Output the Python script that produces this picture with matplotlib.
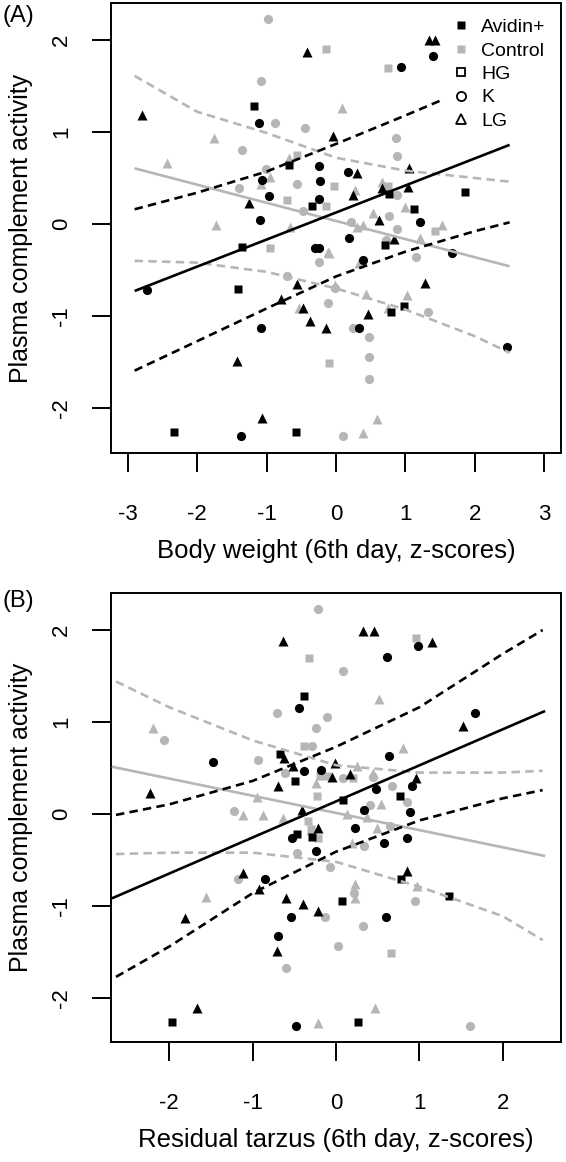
import numpy as np
import matplotlib
matplotlib.use("Agg")
import matplotlib.pyplot as plt
from matplotlib.lines import Line2D

plt.rcParams['font.family'] = ['Liberation Sans', 'DejaVu Sans']
plt.rcParams['axes.unicode_minus'] = False

BLACK = '#000000'
GREY = '#b6b6b6'

# ---------------- Panel A: body weight (x) vs plasma complement activity (y)
A_avidin_HG = [(-1.175, 1.283), (-0.681, 0.645), (-0.35, 0.199), (-1.353, -0.253), (-1.405, -0.71),
               (-2.331, -2.261), (-0.571, -2.261), (0.763, 0.326), (1.856, 0.351), (1.122, 0.16),
               (0.705, -0.228), (0.791, -0.96), (0.978, -0.891)]
A_avidin_K = [(-1.108, 1.101), (-0.25, 0.63), (-1.07, 0.478), (-0.23, 0.464), (-0.969, 0.304),
              (-0.25, 0.268), (-1.098, 0.047), (-0.30, -0.264), (-0.245, -0.264), (-2.72, -0.717),
              (-1.084, -1.134), (-1.367, -2.304), (1.391, 1.826), (0.93, 1.71), (0.168, 0.569),
              (1.209, 0.025), (0.192, -0.149), (1.664, -0.319), (0.393, -0.391), (0.331, -1.134),
              (2.456, -1.333)]
A_avidin_LG = [(-0.42, 1.873), (-2.796, 1.185), (-1.257, 0.225), (-0.557, -0.652), (-0.791, -0.819),
               (-0.47, -0.909), (-0.374, -1.054), (-0.144, -1.134), (-1.429, -1.493), (-1.065, -2.105),
               (1.343, 2.0), (1.424, 2.0), (-0.038, 0.957), (0.307, 0.551), (1.055, 0.605),
               (0.662, 0.395), (0.24, 0.315), (1.031, 0.406), (0.614, 0.043), (0.835, -0.167),
               (1.281, -0.638), (0.465, -0.978)]
A_control_HG = [(-0.144, 1.899), (0.753, 1.699), (-0.557, 0.746), (-0.709, 0.261), (-0.144, 0.199),
                (-0.945, -0.261), (-0.096, -1.514), (-0.029, 0.416), (0.753, 0.416), (1.424, -0.072)]
A_control_K = [(-0.974, 2.225), (-1.075, 1.558), (-0.873, 1.101), (-0.45, 1.047), (-1.353, 0.801),
               (-1.012, 0.594), (-1.396, 0.395), (-0.557, 0.435), (-0.47, 0.141), (-0.25, -0.417),
               (-0.705, -0.565), (-0.11, -0.862), (-0.014, -0.699), (0.863, 0.931), (0.882, 0.739),
               (0.882, 0.315), (0.767, 0.087), (0.211, 0.025), (0.873, -0.058), (1.151, -0.355),
               (1.329, -0.953), (0.249, -1.127), (0.47, -1.225), (0.47, -1.442), (0.47, -1.681),
               (0.105, -2.304), (0.715, -0.174)]
A_control_LG = [(-1.755, 0.938), (-2.436, 0.666), (-0.671, 0.717), (-0.945, 0.514), (-1.079, 0.431),
                (-1.727, -0.011), (-0.657, -0.029), (-0.11, -0.308), (-0.528, -0.909), (0.082, 1.257),
                (0.657, 0.46), (0.273, 0.37), (0.993, 0.188), (0.537, 0.116), (0.297, -0.036),
                (0.384, -0.014), (1.52, -0.014), (1.209, -0.156), (0.336, -0.428), (-0.096, -0.319),
                (-0.014, -0.663), (0.432, -0.761), (1.017, -0.772), (0.753, -0.917), (0.585, -2.12),
                (0.393, -2.275)]

A_fit_x = [-2.9, 2.5]
A_fit_avidin = [-0.728, 0.86]
A_fit_control = [0.605, -0.46]
A_band_x = [-2.9, -2, -1, 0, 1, 2, 2.5]
A_avidin_upper = [0.16, 0.34, 0.57, 0.87, 1.18, 1.50, 1.68]
A_avidin_lower = [-1.594, -1.274, -0.918, -0.57, -0.30, -0.078, 0.018]
A_control_upper = [1.61, 1.22, 0.99, 0.72, 0.58, 0.50, 0.46]
A_control_lower = [-0.40, -0.42, -0.52, -0.70, -0.93, -1.22, -1.40]

# ---------------- Panel B: residual tarsus (x) vs plasma complement activity (y)
B_avidin_HG = [(-0.38, 1.283), (-0.672, 0.652), (-0.496, 0.359), (-0.465, -0.217), (-0.284, -0.254),
               (0.088, 0.152), (0.768, 0.199), (0.776, -0.707), (0.068, -0.946), (1.357, -0.888),
               (-1.973, -2.257), (0.268, -2.257)]
B_avidin_K = [(-0.44, 1.155), (-1.473, 0.569), (-0.388, 0.467), (-0.184, 0.478), (-0.525, -0.257),
              (-0.24, -0.399), (0.988, 1.83), (0.608, 1.71), (1.669, 1.101), (0.64, 0.63),
              (0.48, 0.268), (0.908, 0.304), (0.888, 0.025), (0.34, 0.043), (0.228, -0.156),
              (0.848, -0.257), (0.576, -0.312), (-0.852, -0.707), (-0.54, -1.123), (0.596, -1.123),
              (-0.692, -1.326), (-0.484, -2.301)]
B_avidin_LG = [(-0.64, 1.88), (-0.62, 0.605), (-0.52, 0.522), (-0.693, 0.304), (-2.233, 0.232),
               (-0.408, 0.043), (-0.212, -0.156), (0.32, 1.993), (0.46, 1.993), (1.149, 1.866),
               (1.521, 0.957), (-0.012, 0.551), (-0.052, 0.406), (0.168, 0.431), (0.96, 0.395),
               (0.848, -0.62), (-1.12, -0.645), (-0.924, -0.819), (-0.6, -0.909), (-0.4, -0.982),
               (-0.212, -1.054), (-1.813, -1.134), (-0.712, -1.489), (-1.672, -2.112)]
B_control_HG = [(-0.328, 1.699), (-0.38, 0.743), (-0.192, 0.413), (-0.104, 0.413), (-0.224, 0.199),
                (-0.333, -0.072), (-0.3, -0.167), (-0.212, -0.264), (0.208, 0.388), (0.96, 1.91),
                (0.656, -1.507)]
B_control_K = [(-0.212, 2.225), (-0.705, 1.101), (-0.112, 1.051), (-0.24, 0.931), (-2.061, 0.801),
               (-0.284, 0.743), (-0.933, 0.587), (-0.612, 0.442), (-1.221, 0.033), (-0.465, -0.42),
               (0.08, 1.558), (0.088, 0.395), (0.44, 0.40), (0.668, 0.304), (0.848, 0.134),
               (0.408, 0.098), (0.34, -0.348), (-0.072, -0.572), (0.22, -0.862), (0.948, -0.942),
               (-0.132, -1.123), (0.32, -1.217), (0.648, -0.13), (-1.18, -0.71), (-0.604, -1.677),
               (0.028, -1.435), (1.609, -2.301)]
B_control_LG = [(-2.193, 0.931), (-0.24, 0.333), (-0.945, 0.188), (-1.113, -0.011), (-0.88, -0.011),
                (-0.633, -0.04), (0.52, 1.25), (0.80, 0.714), (0.248, 0.522), (0.44, 0.449),
                (0.544, 0.109), (0.128, 0.0), (0.368, -0.036), (-0.304, -0.174), (0.488, -0.156),
                (0.196, -0.312), (0.968, -0.779), (0.228, -0.761), (0.228, -0.909), (-1.561, -0.906),
                (-0.22, -2.268), (0.468, -2.112)]

B_fit_x = [-2.69, 2.51]
B_fit_avidin = [-0.917, 1.12]
B_fit_control = [0.514, -0.457]
B_band_x = [-2.64, -2, -1, 0, 1, 2, 2.48]
B_avidin_upper = [-0.01, 0.105, 0.36, 0.73, 1.16, 1.74, 2.0]
B_avidin_lower = [-1.77, -1.44, -0.86, -0.41, -0.07, 0.17, 0.26]
B_control_upper = [1.44, 1.16, 0.80, 0.53, 0.45, 0.45, 0.47]
B_control_lower = [-0.435, -0.42, -0.42, -0.52, -0.79, -1.11, -1.37]

MARKERS = {'HG': ('s', 6.2), 'K': ('o', 6.6), 'LG': ('^', 7.4)}


def draw_points(ax, groups):
    # groups: list of (points, colour, group name); grey drawn first
    for pts, color, grp in groups:
        arr = np.array(pts)
        m, ms = MARKERS[grp]
        ax.plot(arr[:, 0], arr[:, 1], ls='none', marker=m, ms=ms, color=color,
                mec='none', zorder=2)


def draw_lines(ax, fit_x, fit_av, fit_co, band_x, av_up, av_lo, co_up, co_lo):
    dash = (3.2, 2.0)
    ax.plot(fit_x, fit_co, color=GREY, lw=1.9, zorder=3, solid_capstyle='butt')
    ax.plot(band_x, co_up, color=GREY, lw=1.9, dashes=dash, zorder=3)
    ax.plot(band_x, co_lo, color=GREY, lw=1.9, dashes=dash, zorder=3)
    ax.plot(fit_x, fit_av, color=BLACK, lw=1.9, zorder=4, solid_capstyle='butt')
    ax.plot(band_x, av_up, color=BLACK, lw=1.9, dashes=dash, zorder=4)
    ax.plot(band_x, av_lo, color=BLACK, lw=1.9, dashes=dash, zorder=4)


def style_axes(ax, xlim, ylim, xticks, xlabel):
    ax.set_xlim(*xlim)
    ax.set_ylim(*ylim)
    ax.set_xticks(xticks)
    ax.set_yticks([-2, -1, 0, 1, 2])
    for s in ax.spines.values():
        s.set_linewidth(1.4)
    ax.tick_params(direction='out', length=14, width=1.4, labelsize=16)
    ax.tick_params(axis='x', pad=23)
    ax.tick_params(axis='y', pad=14, labelrotation=90)
    for lab in ax.get_yticklabels():
        lab.set_va('center')
    ax.set_xlabel(xlabel, fontsize=18.5, labelpad=10)
    ax.set_ylabel('Plasma complement activity', fontsize=18, labelpad=13)


fig = plt.figure(figsize=(5.66, 11.62), dpi=100)
axA = fig.add_axes([111 / 566, 1 - 453 / 1162, 450 / 566, 450 / 1162])
axB = fig.add_axes([111 / 566, 1 - 1042 / 1162, 450 / 566, 449 / 1162])

draw_points(axA, [(A_control_HG, GREY, 'HG'), (A_control_K, GREY, 'K'), (A_control_LG, GREY, 'LG'),
                  (A_avidin_HG, BLACK, 'HG'), (A_avidin_K, BLACK, 'K'), (A_avidin_LG, BLACK, 'LG')])
draw_lines(axA, A_fit_x, A_fit_avidin, A_fit_control, A_band_x,
           A_avidin_upper, A_avidin_lower, A_control_upper, A_control_lower)
style_axes(axA, (-3.24, 3.24), (-2.489, 2.402), [-3, -2, -1, 0, 1, 2, 3],
           'Body weight (6th day, z-scores)')

draw_points(axB, [(B_control_HG, GREY, 'HG'), (B_control_K, GREY, 'K'), (B_control_LG, GREY, 'LG'),
                  (B_avidin_HG, BLACK, 'HG'), (B_avidin_K, BLACK, 'K'), (B_avidin_LG, BLACK, 'LG')])
draw_lines(axB, B_fit_x, B_fit_avidin, B_fit_control, B_band_x,
           B_avidin_upper, B_avidin_lower, B_control_upper, B_control_lower)
style_axes(axB, (-2.70, 2.70), (-2.478, 2.402), [-2, -1, 0, 1, 2],
           'Residual tarzus (6th day, z-scores)')

# legend (white background hides the lines behind it)
handles = [
    Line2D([], [], ls='none', marker='s', ms=6.2, color=BLACK, mec='none'),
    Line2D([], [], ls='none', marker='s', ms=6.2, color=GREY, mec='none'),
    Line2D([], [], ls='none', marker='s', ms=6.2, mfc='none', mec=BLACK, mew=1.3),
    Line2D([], [], ls='none', marker='o', ms=6.6, mfc='none', mec=BLACK, mew=1.3),
    Line2D([], [], ls='none', marker='^', ms=7.4, mfc='none', mec=BLACK, mew=1.3),
]
leg = axA.legend(handles, ['Avidin+', 'Control', 'HG', 'K', 'LG'], loc='upper right',
                 fontsize=14, frameon=True, facecolor='white', edgecolor='none', framealpha=1,
                 fancybox=False, handlelength=1.0, handletextpad=0.5, labelspacing=0.3,
                 borderpad=0.5, borderaxespad=0.3)
leg.set_zorder(10)

fig.text(0.004, 1 - 16 / 1162, '(A)', fontsize=17, va='center', ha='left')
fig.text(0.004, 1 - 601 / 1162, '(B)', fontsize=17, va='center', ha='left')

fig.savefig('out.png', dpi=100)
